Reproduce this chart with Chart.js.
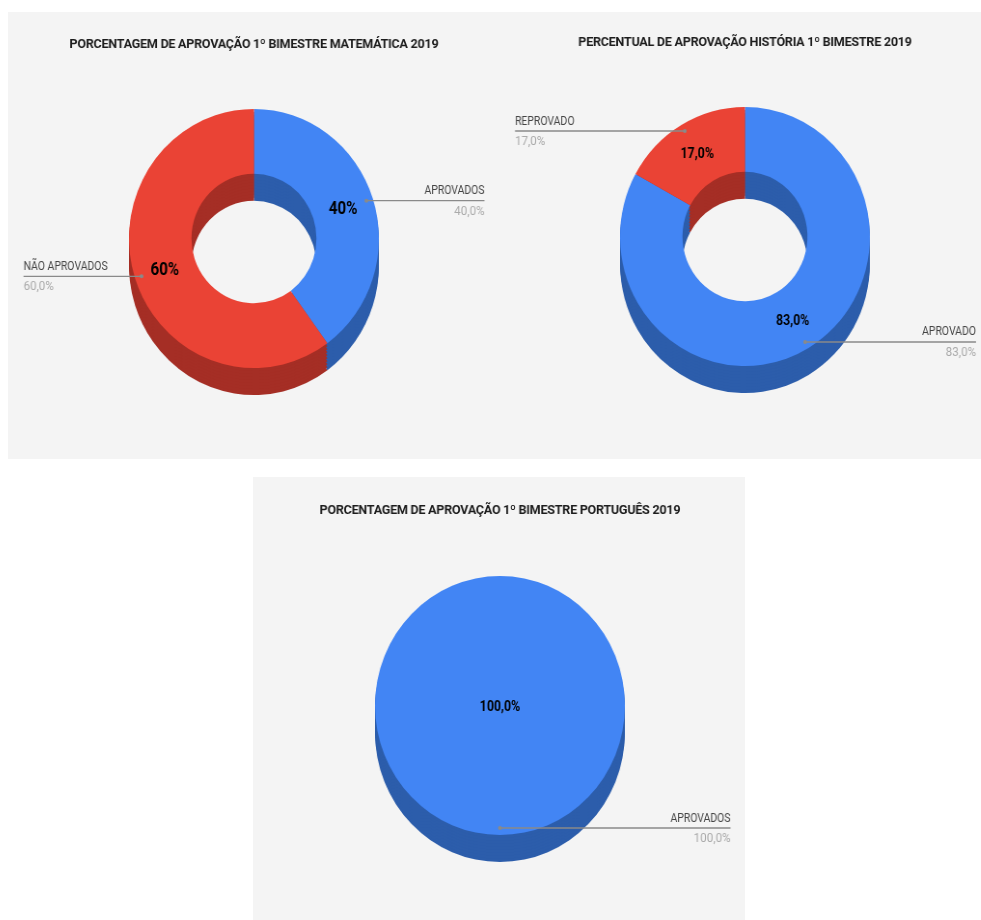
<!DOCTYPE html>
<html>
<head>
<meta charset="utf-8">
<title>Aprovação 1º bimestre 2019</title>
<script src="https://cdn.jsdelivr.net/npm/chart.js@4"></script>
<style>
  html, body { margin: 0; padding: 0; background: #fff; overflow: hidden; width: 981px; height: 920px; }
  .panel { position: absolute; background: #f4f4f4; }
  canvas { position: absolute; transform-origin: 0 0; transform: scaleX(0.965); filter: blur(0.55px); }
</style>
</head>
<body>
<div class="panel" style="left:8px;top:12px;width:973px;height:447px"></div>
<div class="panel" style="left:253px;top:477px;width:492px;height:443px"></div>
<canvas id="mat"></canvas>
<canvas id="his"></canvas>
<canvas id="por"></canvas>
<script>
// Data
const matTitle = 'PORCENTAGEM DE APROVAÇÃO 1º BIMESTRE MATEMÁTICA 2019';
const matLabels = ['APROVADOS', 'NÃO APROVADOS'];
const matValues = [40, 60];

const hisTitle = 'PERCENTUAL DE APROVAÇÃO HISTÓRIA 1º BIMESTRE 2019';
const hisLabels = ['APROVADO', 'REPROVADO'];
const hisValues = [83, 17];

const porTitle = 'PORCENTAGEM DE APROVAÇÃO 1º BIMESTRE PORTUGUÊS 2019';
const porLabels = ['APROVADOS'];
const porValues = [100];

const BLUE = '#4285f4', RED = '#ea4335';
const DARK = { [BLUE]: '#2c5dab', [RED]: '#a52e25' };
const SQUEEZE = 0.965;
const CSS_W = 472;
const R = 129.5;

function comma(v, dec) {
  return v.toFixed(dec).replace('.', ',');
}

// text squeezed sideways around its anchor, the reference type is narrow
function narrowText(ctx, text, x, y, sx) {
  ctx.save();
  ctx.translate(x, y);
  ctx.scale(sx, 1);
  ctx.fillText(text, 0, 0);
  ctx.restore();
}

// side wall of the 3D pie: the same arcs redrawn lower down in a darker colour
// big steps on purpose, many thin layers leave stripes from edge blending
const extrude = {
  id: 'extrude',
  beforeDatasetsDraw(chart, args, opts) {
    const ctx = chart.ctx;
    const arcs = chart.getDatasetMeta(0).data;
    for (let i = opts.depth; i > 0; i -= 3) {
      arcs.forEach(arc => {
        const saved = arc.options;
        const dark = Object.create(saved);
        dark.backgroundColor = DARK[saved.backgroundColor];
        arc.options = dark;
        ctx.save();
        ctx.translate(0, i);
        arc.draw(ctx);
        ctx.restore();
        arc.options = saved;
      });
    }
  }
};

// values on the slices and the leader lines with their captions
const callouts = {
  id: 'callouts',
  beforeDraw(chart) {
    chart.ctx.letterSpacing = '-0.25px'; // only the title goes through this
  },
  afterDraw(chart, args, opts) {
    const ctx = chart.ctx;
    ctx.letterSpacing = '0px';
    const arcs = chart.getDatasetMeta(0).data;
    const values = chart.data.datasets[0].data;
    arcs.forEach((arc, i) => {
      const mid = (arc.startAngle + arc.endAngle) / 2;
      const ax = arc.x + Math.cos(mid) * arc.outerRadius * 0.946;
      const ay = arc.y + Math.sin(mid) * arc.outerRadius * 0.946;
      const edge = (opts.edges[i] - opts.left) / SQUEEZE;
      const right = edge > ax;

      ctx.strokeStyle = '#8a8a8a';
      ctx.lineWidth = 1.4;
      ctx.beginPath();
      ctx.moveTo(ax, ay);
      ctx.lineTo(edge, ay);
      ctx.stroke();
      ctx.fillStyle = '#8a8a8a';
      ctx.beginPath();
      ctx.arc(ax, ay, 2, 0, Math.PI * 2);
      ctx.fill();

      ctx.textAlign = right ? 'right' : 'left';
      ctx.textBaseline = 'alphabetic';
      ctx.font = '12px Roboto';
      ctx.fillStyle = '#444';
      narrowText(ctx, chart.data.labels[i], edge, ay - 6.5, 0.9);
      ctx.fillStyle = '#aaa';
      narrowText(ctx, comma(values[i], 1) + '%', edge, ay + 14, 1);

      const p = arcs.length === 1 ? { x: arc.x, y: arc.y } : arc.getCenterPoint();
      ctx.textAlign = 'center';
      ctx.textBaseline = 'middle';
      ctx.font = 'bold ' + opts.valueSize + 'px Roboto';
      ctx.fillStyle = '#000';
      narrowText(ctx, comma(values[i], opts.valueDec) + '%', p.x, p.y + 1.5, 0.88);
    });
  }
};

function drawDonut(id, title, labels, values, colors, o) {
  const canvas = document.getElementById(id);
  const left = o.cx - CSS_W / 2;
  const w = Math.round(CSS_W / SQUEEZE);
  canvas.width = w;
  canvas.height = o.height;
  canvas.style.width = w + 'px';
  canvas.style.height = o.height + 'px';
  canvas.style.left = left + 'px';
  canvas.style.top = o.top + 'px';

  const titleTop = o.titleY - 7.8;
  new Chart(canvas, {
    type: 'doughnut',
    data: {
      labels: labels,
      datasets: [{ data: values, backgroundColor: colors, borderWidth: 0 }]
    },
    options: {
      responsive: false,
      animation: false,
      cutout: o.cutout,
      layout: { padding: { bottom: o.height - o.arcTop - 2 * R } },
      plugins: {
        legend: { display: false },
        tooltip: { enabled: false },
        title: {
          display: true,
          text: title,
          color: '#1c1c1c',
          font: { family: 'Roboto', size: 13, weight: 'bold' },
          padding: { top: titleTop, bottom: o.arcTop - titleTop - 15.6 }
        },
        extrude: { depth: 27 },
        callouts: { edges: o.edges, left: left, valueSize: o.valueSize, valueDec: o.valueDec }
      }
    },
    plugins: [extrude, callouts]
  });
}

drawDonut('mat', matTitle, matLabels, matValues, [BLUE, RED],
  { cx: 253.5, top: 12, height: 447, titleY: 32.5, arcTop: 97, cutout: '50%', edges: [484, 23], valueSize: 18, valueDec: 0 });
drawDonut('his', hisTitle, hisLabels, hisValues, [BLUE, RED],
  { cx: 745, top: 12, height: 447, titleY: 30.5, arcTop: 95, cutout: '50%', edges: [976, 515], valueSize: 14.5, valueDec: 1 });
drawDonut('por', porTitle, porLabels, porValues, [BLUE],
  { cx: 499.5, top: 477, height: 443, titleY: 33.5, arcTop: 99, cutout: 0, edges: [730], valueSize: 14.5, valueDec: 1 });
</script>
</body>
</html>
